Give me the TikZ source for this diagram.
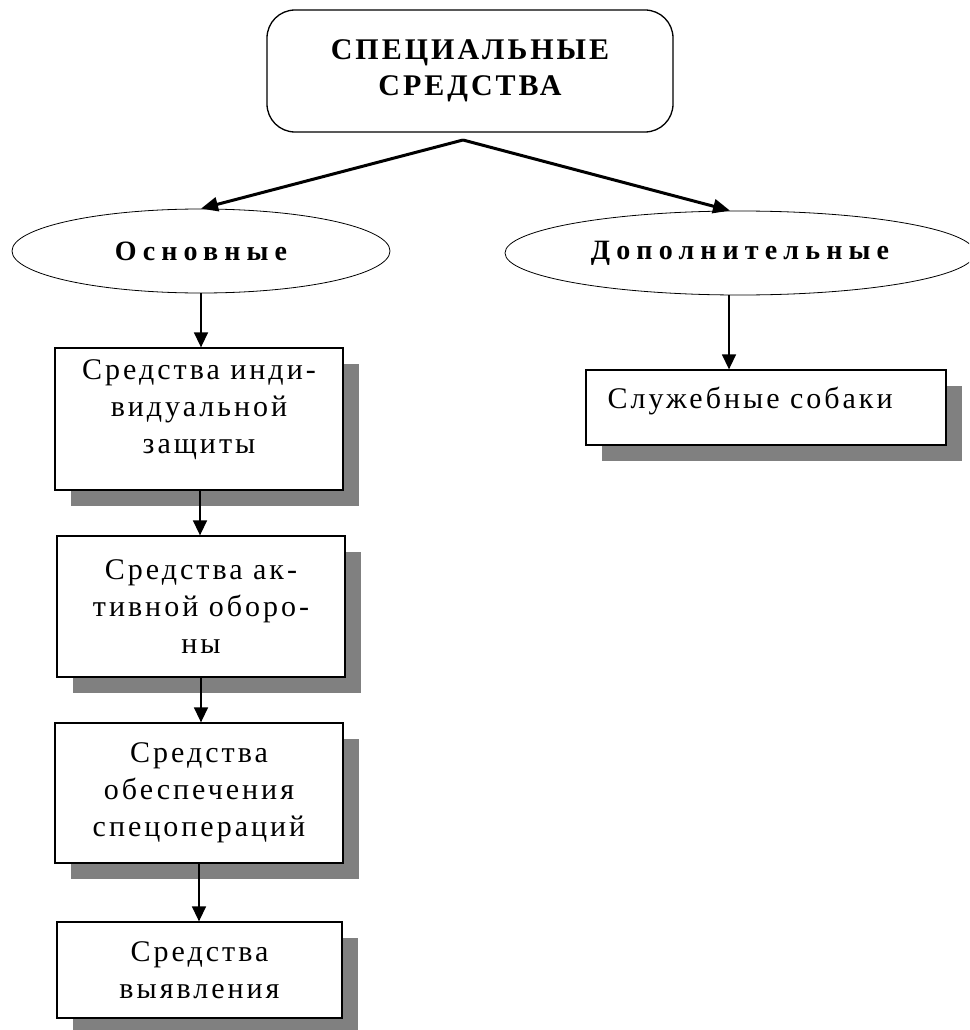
\documentclass[tikz,border=0pt]{standalone}
\usepackage{fontspec}
\setmainfont{Liberation Serif}
\newfontfamily\bodyfont[LetterSpace=10]{Liberation Serif}
\newfontfamily\headfont[LetterSpace=10]{Liberation Serif}
\newfontfamily\ovalfont[LetterSpace=22]{Liberation Serif}
\usetikzlibrary{shapes.geometric,arrows.meta,shadows,calc}
\definecolor{shadowgray}{RGB}{128,128,128}
\begin{document}
\begin{tikzpicture}[x=1pt,y=-1pt,
  every node/.style={inner sep=0pt},
  txt/.style={align=center, font=\bodyfont\fontsize{30}{37}\selectfont},
  sbox/.style={draw, line width=1.3pt, fill=white, txt,
    general shadow={shadow xshift=16pt, shadow yshift=-16pt, fill=shadowgray}},
  titlebox/.style={draw, line width=1.3pt, rounded corners=28pt, align=center,
    font=\headfont\bfseries\fontsize{30}{36}\selectfont},
  oval/.style={ellipse, draw, line width=0.8pt, fill=white,
    font=\ovalfont\bfseries\fontsize{28}{34}\selectfont},
  conn/.style={line width=1.5pt, -{Triangle[length=15pt,width=14pt]}},
  slant/.style={line width=3pt, -{Triangle[length=17pt,width=14pt]}}
]
\path[use as bounding box] (0,0) rectangle (969,1030);
\clip (0,0) rectangle (969,1030);

\node[titlebox, minimum width=406pt, minimum height=122pt] (top) at (470,71) {СПЕЦИАЛЬНЫЕ\\СРЕДСТВА};

\node[oval, minimum width=378pt, minimum height=84pt] (osn) at (201,251) {Основные};
\node[oval, minimum width=470pt, minimum height=84pt] (dop) at (740,253) {Дополнительные};

\node[sbox, minimum width=288pt, minimum height=142pt] (b1) at (199,419) {};
\node[txt] (b1t) at ($(b1)+(0,-9)$) {Средства инди-\\видуальной\\защиты};

\node[sbox, minimum width=288pt, minimum height=141pt] (b2) at (201,606.5) {Средства ак-\\тивной оборо-\\ны};

\node[sbox, minimum width=288pt, minimum height=140pt] (b3) at (199,793) {Средства\\обеспечения\\спецопераций};

\node[sbox, minimum width=285pt, minimum height=96pt] (b4) at (199.5,970) {Средства\\выявления};

\node[sbox, minimum width=360pt, minimum height=75pt] (dogs) at (766,407.5) {};
\node[txt, anchor=west] (dogst) at ($(dogs.west)+(22,-7)$) {Служебные собаки};

\coordinate (apex) at (463,140);
\draw[slant] (apex) -- (osn.north);
\draw[slant] (apex) -- ($(dop.north)+(-10,0)$);

\draw[conn] (osn.south) -- (osn.south |- b1.north);
\draw[conn] ($(dop.south)+(-11,0)$) -- ($(dogs.north)+(-37,0)$);
\draw[conn] ($(b1.south)+(1,0)$) -- ($(b1.south |- b2.north)+(1,0)$);
\draw[conn] (b2.south) -- (b2.south |- b3.north);
\draw[conn] (b3.south) -- (b3.south |- b4.north);
\end{tikzpicture}
\end{document}
